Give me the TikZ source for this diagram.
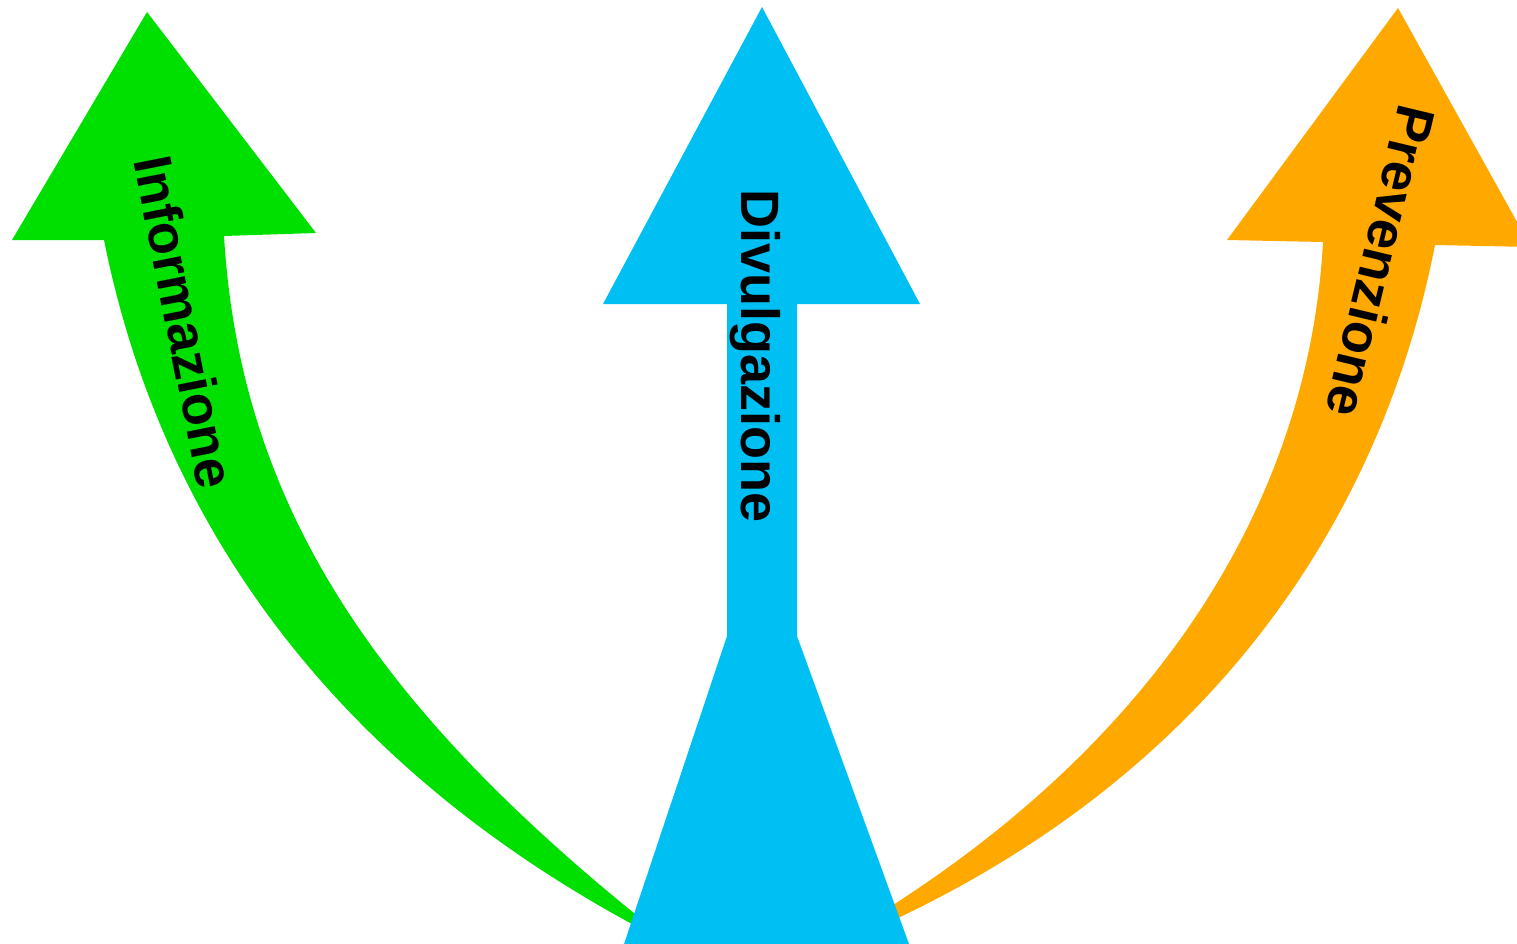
\documentclass[tikz,border=0pt]{standalone}
\usepackage{fontspec}
\setmainfont{Liberation Sans}
\definecolor{cgreen}{RGB}{0,224,0}
\definecolor{cblue}{RGB}{0,191,243}
\definecolor{corange}{RGB}{255,168,0}
\begin{document}
\begin{tikzpicture}[x=1pt,y=-1pt,
  lbl/.style={inner sep=0pt,font=\fontsize{54}{60}\selectfont\bfseries}]
\useasboundingbox (0,0) rectangle (1517,944);
\clip (0,0) rectangle (1517,944);
% green arrow
\fill[cgreen] (104,240) -- (12,240) -- (147,12) -- (316,233) -- (224,236)
  .. controls (240,500) and (370,700) .. (640,918) -- (632,924)
  .. controls (330,760) and (160,520) .. (104,240) -- cycle;
% orange arrow
\fill[corange] (1323,242) -- (1227,240) -- (1398,8) -- (1531,247) -- (1435,245)
  .. controls (1385,500) and (1230,760) .. (898,918) -- (893,905)
  .. controls (1180,720) and (1310,480) .. (1323,242) -- cycle;
% blue arrow
\fill[cblue] (727,304) -- (603,304) -- (762,7) -- (920,304) -- (797,304)
  -- (797,636) -- (909,944) -- (624,944) -- (727,636) -- cycle;
\node[lbl,rotate=-78.8] (info) at (185,322) {Informazione};
\node[lbl,rotate=-90] (divu) at (755,356) {Divulgazione};
\node[lbl,rotate=-103.5] (prev) at (1381,262) {Prevenzione};
\end{tikzpicture}
\end{document}
